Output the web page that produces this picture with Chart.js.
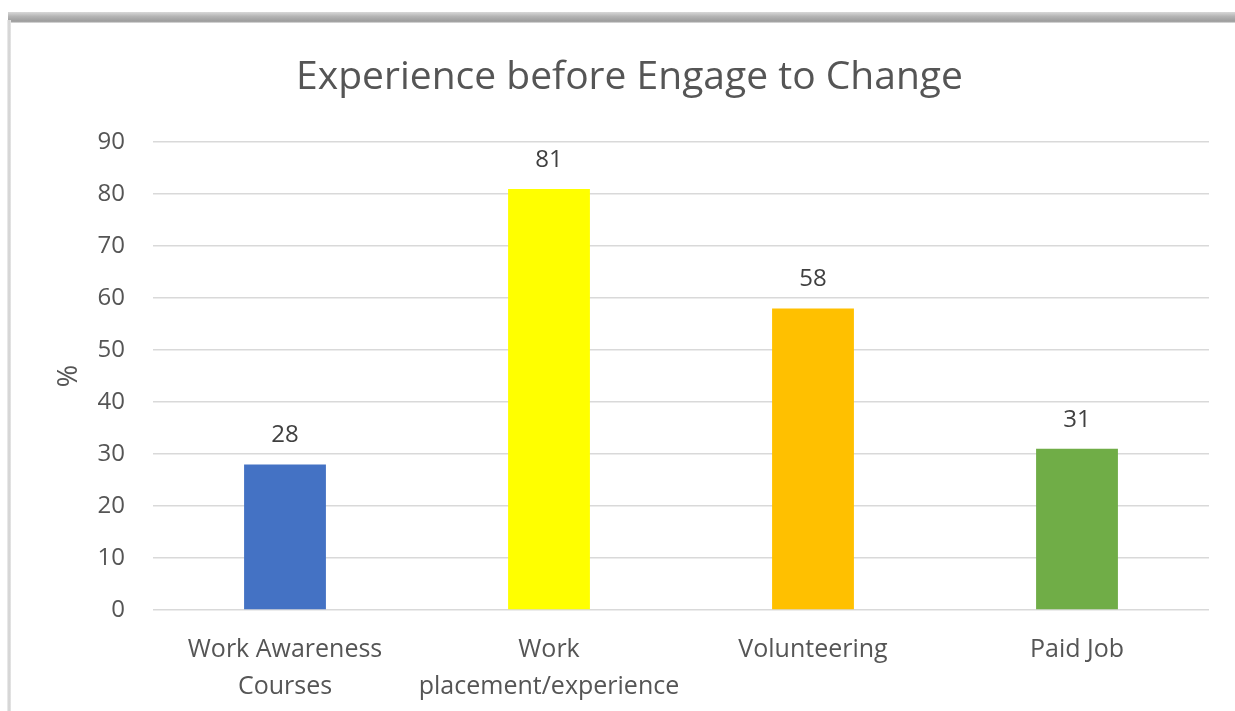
<!DOCTYPE html>
<html>
<head>
<meta charset="utf-8">
<script src="https://cdn.jsdelivr.net/npm/chart.js@4"></script>
<style>
  html, body { margin: 0; padding: 0; background: #ffffff; width: 1235px; height: 711px; overflow: hidden; }
  #band { position: absolute; left: 8px; top: 12px; width: 1227px; height: 11px;
          background: linear-gradient(to bottom, #d8d8d8 0%, #b4b4b4 40%, #9c9c9c 85%, #e6e6e6 100%); }
  #leftb { position: absolute; left: 7px; top: 20px; width: 4px; height: 691px;
           background: linear-gradient(to right, #f0f0f0 0%, #cfcfcf 50%, #e8e8e8 100%); }
  #wrap { position: absolute; left: 0; top: 0; width: 1235px; height: 711px; }
</style>
</head>
<body>
<div id="band"></div>
<div id="leftb"></div>
<div id="wrap"><canvas id="c" width="1235" height="711"></canvas></div>
<script>
const categories = [["Work Awareness", "Courses"], ["Work", "placement/experience"], "Volunteering", "Paid Job"];
const values = [28, 81, 58, 31];
const barColors = ["#4472C4", "#FFFF00", "#FFC000", "#70AD47"];
const yTicks = [0, 10, 20, 30, 40, 50, 60, 70, 80, 90];
const chartTitle = "Experience before Engage to Change";
const yTitle = "%";

const FONT = "'Open Sans', 'DejaVu Sans', sans-serif";

const dataLabels = {
  id: 'dataLabels',
  afterDatasetsDraw(chart) {
    const ctx = chart.ctx;
    const meta = chart.getDatasetMeta(0);
    ctx.save();
    ctx.font = "24px " + FONT;
    ctx.fillStyle = "#404040";
    ctx.textAlign = "center";
    ctx.textBaseline = "middle";
    meta.data.forEach((el, i) => {
      ctx.fillText(String(values[i]), el.x, el.y - 29);
    });
    ctx.restore();
  }
};

new Chart(document.getElementById('c'), {
  type: 'bar',
  data: {
    labels: categories,
    datasets: [{
      data: values,
      backgroundColor: barColors,
      borderWidth: 0,
      barPercentage: 0.31,
      categoryPercentage: 1.0
    }]
  },
  options: {
    responsive: false,
    animation: false,
    devicePixelRatio: 1,
    layout: { padding: { left: 50, right: 26, top: 22, bottom: 0 } },
    plugins: {
      legend: { display: false },
      tooltip: { enabled: false },
      title: {
        display: true,
        text: chartTitle,
        color: "#555555",
        font: { family: FONT, size: 39, weight: 'normal', lineHeight: 1.2 },
        padding: { top: 32.5, bottom: 40.8 }
      }
    },
    scales: {
      x: {
        grid: { display: false, drawTicks: false },
        border: { display: false },
        ticks: {
          color: "#555555",
          font: { family: FONT, size: 25, lineHeight: 1.45 },
          padding: 22,
          maxRotation: 0,
          autoSkip: false
        },
        afterFit(scale) { scale.height = 101; }
      },
      y: {
        min: 0,
        max: 90,
        afterBuildTicks(scale) { scale.ticks = yTicks.map(v => ({ value: v })); },
        grid: { color: "#d9d9d9", lineWidth: 1.5, drawTicks: false },
        border: { display: false },
        ticks: {
          color: "#555555",
          font: { family: FONT, size: 24 },
          padding: 28
        },
        title: {
          display: true,
          text: yTitle,
          color: "#555555",
          font: { family: FONT, size: 27 },
          padding: { top: 3, bottom: 0 }
        },
        afterFit(scale) { scale.width = 103; }
      }
    }
  },
  plugins: [dataLabels]
});
</script>
</body>
</html>
